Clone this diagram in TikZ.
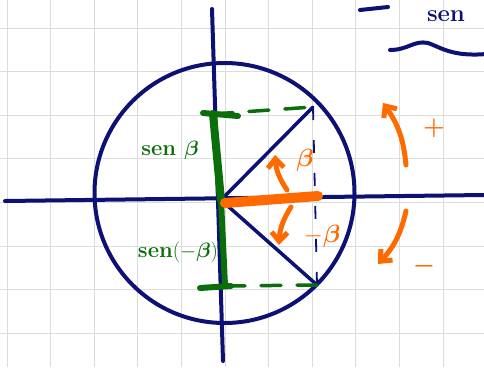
\documentclass[tikz,border=0pt]{standalone}
\usepackage{amsmath}
\usepackage{tikz}
\usetikzlibrary{arrows.meta, positioning}
\definecolor{navyink}{HTML}{0D1173}
\definecolor{greenink}{HTML}{0A6E0A}
\definecolor{orangeink}{HTML}{FF6A00}
\definecolor{gridgray}{HTML}{DCDCDC}

\begin{document}
\begin{tikzpicture}[
    x=1pt, y=-1pt,
    gridline/.style={draw=gridgray, line width=0.9pt},
    axisline/.style={draw=navyink, line width=4pt, line cap=round},
    ray/.style={draw=navyink, line width=3.5pt, line cap=round},
    proj/.style={draw=navyink, line width=1.8pt, dash pattern=on 13pt off 20pt},
    sinbar/.style={draw=greenink, line width=8pt, line cap=round},
    sinserif/.style={draw=greenink, line width=6pt, line cap=round},
    sindash/.style={draw=greenink, line width=3.5pt, line cap=round, dash pattern=on 20pt off 16pt},
    cosbar/.style={draw=orangeink, line width=10pt, line cap=round},
    turn/.style={-{Straight Barb[length=9pt, width=16pt]}, draw=orangeink,
        line width=5pt, line cap=round},
    greenlab/.style={text=greenink, font=\fontsize{22}{24}\selectfont\bfseries, inner sep=1pt},
    orangelab/.style={text=orangeink, font=\fontsize{30}{32}\selectfont\bfseries, inner sep=1pt},
    signlab/.style={text=orangeink, font=\fontsize{42}{44}\selectfont\bfseries, inner sep=1pt},
    navylab/.style={text=navyink, font=\fontsize{24}{26}\selectfont\bfseries, inner sep=1pt}
]

% --- Page and squared paper ---
\clip (0,0) rectangle (484,367);
\fill[white] (0,0) rectangle (484,367);
\foreach \i in {0,...,10}
    \draw[gridline] ({7+43.6*\i},0) -- ({7+43.6*\i},367);
\foreach \j in {0,...,7}
    \draw[gridline] (0,{28+43.6*\j}) -- (484,{28+43.6*\j});

% --- Key points ---
\coordinate (O)  at (221,200);
\coordinate (P)  at (313,107);
\coordinate (Q)  at (317,285);
\coordinate (xl) at (5,201);
\coordinate (xr) at (484,195);
\coordinate (yt) at (212,9);
\coordinate (yb) at (223,361);
\coordinate (C)  at (224.5,193);

% --- Axes and unit circle ---
\draw[axisline] (xl) -- (xr);
\draw[axisline] (yt) -- (yb);
\draw[draw=navyink, line width=4pt] (C) circle[radius=130];

% --- Radii and vertical projection ---
\draw[ray] (O) -- (P);
\draw[ray] (O) -- (Q);
\draw[proj] (P) -- (Q);

% --- Sine segments (green) ---
\coordinate (st) at (213,114);
\coordinate (sb) at (225,286);
\draw[sinbar] (st) -- (O);
\draw[sinbar, line width=6pt] (O) -- (sb);
\draw[sinserif] (203,113) -- (238,116);
\draw[sinserif] (200,288) -- (231,286);
\draw[sindash] (st) -- (P);
\draw[sindash] (sb) -- (Q);
\node[greenlab] (senb)  at (170,150) {sen $\boldsymbol{\beta}$};
\node[greenlab] (senmb) at (178,252) {sen$(-\boldsymbol{\beta})$};

% --- Cosine segment and angles (orange) ---
\draw[cosbar] (225,203) -- (318,196);
\coordinate (a1) at (287,190);
\coordinate (a2) at (275,155);
\coordinate (b1) at (291,207);
\coordinate (b2) at (279,245);
\draw[turn] (a1) to[bend left=15] (a2);
\draw[turn] (b1) to[bend right=15] (b2);
\node[orangelab] (beta)  at (305,160) {$\boldsymbol{\beta}$};
\node[orangelab] (mbeta) at (322,236) {$-\boldsymbol{\beta}$};

% --- Sense of rotation ---
\coordinate (r1) at (406,165);
\coordinate (r2) at (383,103);
\coordinate (r3) at (406,211);
\coordinate (r4) at (378,264);
\draw[turn] (r1) to[bend right=15] (r2);
\draw[turn] (r3) to[bend left=15] (r4);
\node[signlab] (plus)  at (434,128) {$\boldsymbol{+}$};
\node[signlab] (minus) at (424,266) {$\boldsymbol{-}$};

% --- Note at top right ---
\draw[draw=navyink, line width=4pt, line cap=round] (360,10) -- (388,7);
\node[navylab, anchor=south] (senx) at (446,23) {sen};
\draw[draw=navyink, line width=4pt, line cap=round] (390,50)
    .. controls (408,50) and (414,40) .. (428,43)
    .. controls (440,47) and (452,57) .. (486,54);

\end{tikzpicture}
\end{document}
